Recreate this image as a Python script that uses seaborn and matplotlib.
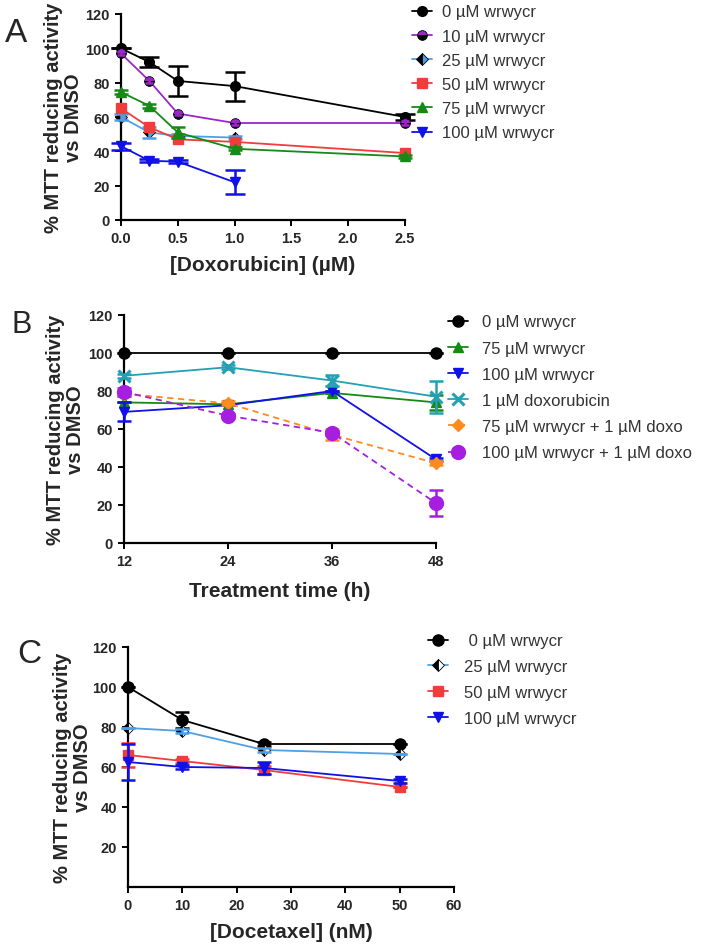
import numpy as np
import pandas as pd
import seaborn as sns
import matplotlib
matplotlib.use("Agg")
import matplotlib.pyplot as plt

sns.set_theme(style="ticks")
plt.rcParams['font.family'] = ['Liberation Sans', 'DejaVu Sans']

# ---- data ----
# Panel A: doxorubicin dose, MTT %
a_x_long = [0, 0.25, 0.5, 1.0, 2.5]
a_x_short = [0, 0.25, 0.5, 1.0]
a_names = ['0 µM wrwycr', '10 µM wrwycr', '25 µM wrwycr',
           '50 µM wrwycr', '75 µM wrwycr', '100 µM wrwycr']
a_0 = [100, 92, 81, 78, 60]
a_0_err = [0, 3, 8.5, 8.5, 1.5]
a_10 = [97, 81, 62, 56.5, 56.5]
a_10_err = [1, 1, 1, 1, 1]
a_25 = [60, 51, 49, 48]
a_25_err = [2, 3, 1, 1]
a_50 = [65, 54, 47, 45.5, 39]
a_50_err = [2, 2, 1, 1.5, 1]
a_75 = [74.5, 66.5, 51, 41.5, 37]
a_75_err = [1, 1, 3, 1, 1]
a_100 = [43, 34.5, 34, 22]
a_100_err = [2, 1, 1, 7]

# Panel B: treatment time
b_x = [12, 24, 36, 48]
b_names = ['0 µM wrwycr', '75 µM wrwycr', '100 µM wrwycr', '1 µM doxorubicin',
           '75 µM wrwycr + 1 µM doxo', '100 µM wrwycr + 1 µM doxo']
b_0 = [100, 100, 100, 100]
b_0_err = [0, 0, 0, 0]
b_75 = [74, 73, 79, 74]
b_75_err = [0, 0, 0, 4]
b_100 = [69, 72.5, 80, 44]
b_100_err = [5, 0, 0, 1]
b_doxo = [88, 92.5, 85.5, 77]
b_doxo_err = [1, 1, 3, 8.5]
b_75doxo = [78.5, 73.5, 57, 42]
b_75doxo_err = [1, 1, 3, 1]
b_100doxo = [79.5, 67, 58, 21]
b_100doxo_err = [2, 1, 1, 7]

# Panel C: docetaxel dose
c_x = [0, 10, 25, 50]
c_names = [' 0 µM wrwycr', '25 µM wrwycr', '50 µM wrwycr', '100 µM wrwycr']
c_0 = [100, 83.5, 71.5, 71.5]
c_0_err = [0, 4, 1, 0]
c_25 = [79.5, 78, 68.5, 66.5]
c_25_err = [0, 1, 1, 0]
c_50 = [66, 63, 58.5, 50]
c_50_err = [6, 1, 2, 0]
c_100 = [62.5, 60, 59.5, 53]
c_100_err = [9, 1, 3, 1]

BLACK = 'black'
PURPLE = '#9b27c9'
LBLUE = '#4f9fe6'
RED = '#f23c3c'
GREEN = '#168a16'
BLUE = '#1010e8'
TEAL = '#24a0b4'
ORANGE = '#ff8a1e'
MAG = '#a61fe0'

W, H = 701, 953
fig = plt.figure(figsize=(W / 100, H / 100), dpi=100)


def axes_px(left, right, top, bottom):
    return fig.add_axes([left / W, 1 - bottom / H, (right - left) / W, (bottom - top) / H])


def draw(ax, x, y, err, name, color, marker, ms=7, ls='-', capsize=5, **mk):
    sns.lineplot(x=x, y=y, ax=ax, color=color, marker=marker, markersize=ms,
                 linestyle=ls, linewidth=1.3, errorbar=None, label=name,
                 markeredgecolor=mk.pop('mec', color), markeredgewidth=mk.pop('mew', 1),
                 clip_on=False, zorder=3, **mk)
    ax.errorbar(x, y, yerr=err, fmt='none', ecolor=color, elinewidth=1.8,
                capsize=capsize, capthick=1.8, clip_on=False, zorder=3)


def style_axes(ax, xlabel, xlim, xticks, xticklabels, yticks, lab_x, xpad):
    sns.despine(ax=ax)
    ax.set_xlim(*xlim)
    ax.set_ylim(0, 120)
    ax.set_xticks(xticks)
    ax.set_xticklabels(xticklabels)
    ax.set_yticks(yticks)
    for s in ['left', 'bottom']:
        ax.spines[s].set_linewidth(1.6)
        ax.spines[s].set_color('black')
    ax.tick_params(axis='both', length=4, width=1.4, color='black',
                   labelsize=10.5, pad=4)
    for t in ax.get_xticklabels() + ax.get_yticklabels():
        t.set_fontweight('bold')
    ax.set_xlabel(xlabel, fontsize=15, fontweight='bold', labelpad=xpad)
    ax.set_ylabel('% MTT reducing activity\nvs DMSO', fontsize=14.5,
                  fontweight='bold', linespacing=1.05)
    ax.yaxis.set_label_coords(lab_x, 0.5)
    ax.grid(False)


def legend(ax, left, top, spacing, textpad=0.6):
    h, l = ax.get_legend_handles_labels()
    ax.legend(h, l, loc='upper left', bbox_to_anchor=(left / W, 1 - top / H),
              bbox_transform=fig.transFigure, frameon=False, fontsize=12,
              borderpad=0, borderaxespad=0, handlelength=1.2, handletextpad=textpad,
              labelspacing=spacing, labelcolor='#333333')


# ---- Panel A ----
axA = axes_px(121, 405, 15, 221)
draw(axA, a_x_long, a_0, a_0_err, a_names[0], BLACK, 'o', capsize=7)
draw(axA, a_x_long, a_10, a_10_err, a_names[1], PURPLE, 'o', capsize=3,
     fillstyle='top', markerfacecoloralt=BLACK, mec=BLACK, mew=0.6)
draw(axA, a_x_short, a_25, a_25_err, a_names[2], LBLUE, 'D', ms=6, capsize=5,
     fillstyle='left', markerfacecolor=BLACK, markerfacecoloralt=LBLUE, mec=BLACK, mew=0.6)
draw(axA, a_x_long, a_50, a_50_err, a_names[3], RED, 's', capsize=3)
draw(axA, a_x_long, a_75, a_75_err, a_names[4], GREEN, '^', capsize=5)
draw(axA, a_x_short, a_100, a_100_err, a_names[5], BLUE, 'v', capsize=7)
style_axes(axA, '[Doxorubicin] (µM)', (0, 2.5), [0, 0.5, 1.0, 1.5, 2.0, 2.5],
           ['0.0', '0.5', '1.0', '1.5', '2.0', '2.5'], [0, 20, 40, 60, 80, 100, 120],
           -0.134, 7)
legend(axA, 412, 5.5, 0.55)

# ---- Panel B ----
axB = axes_px(124, 436, 316, 544)
draw(axB, b_x, b_0, b_0_err, b_names[0], BLACK, 'o', ms=8)
draw(axB, b_x, b_75, b_75_err, b_names[1], GREEN, '^')
draw(axB, b_x, b_100, b_100_err, b_names[2], BLUE, 'v')
draw(axB, b_x, b_doxo, b_doxo_err, b_names[3], TEAL, 'x', ms=8, mew=2.2)
draw(axB, b_x, b_75doxo, b_75doxo_err, b_names[4], ORANGE, 'D', ms=6, ls=(0, (3.5, 2.5)))
draw(axB, b_x, b_100doxo, b_100doxo_err, b_names[5], MAG, 'o', ms=10, ls=(0, (3.5, 2.5)))
style_axes(axB, 'Treatment time (h)', (12, 48), [12, 24, 36, 48],
           ['12', '24', '36', '48'], [0, 20, 40, 60, 80, 100, 120], -0.125, 9)
legend(axB, 448, 315.5, 0.67, textpad=0.82)

# ---- Panel C ----
axC = axes_px(128, 454, 648, 888)
draw(axC, c_x, c_0, c_0_err, c_names[0], BLACK, 'o', ms=8)
draw(axC, c_x, c_25, c_25_err, c_names[1], LBLUE, 'D', ms=6,
     fillstyle='left', markerfacecolor=BLACK, markerfacecoloralt='white', mec=BLACK, mew=0.6)
draw(axC, c_x, c_50, c_50_err, c_names[2], RED, 's')
draw(axC, c_x, c_100, c_100_err, c_names[3], BLUE, 'v', capsize=5)
style_axes(axC, '[Docetaxel] (nM)', (0, 60), [0, 10, 20, 30, 40, 50, 60],
           ['0', '10', '20', '30', '40', '50', '60'], [20, 40, 60, 80, 100, 120],
           -0.11, 7)
legend(axC, 428, 634.5, 0.65, textpad=0.95)

# panel letters
fig.text(5 / W, 1 - 42 / H, 'A', fontsize=24, va='baseline')
fig.text(12 / W, 1 - 333 / H, 'B', fontsize=22, va='baseline')
fig.text(17 / W, 1 - 663 / H, 'C', fontsize=24, va='baseline')

fig.savefig('out.png', dpi=100)
